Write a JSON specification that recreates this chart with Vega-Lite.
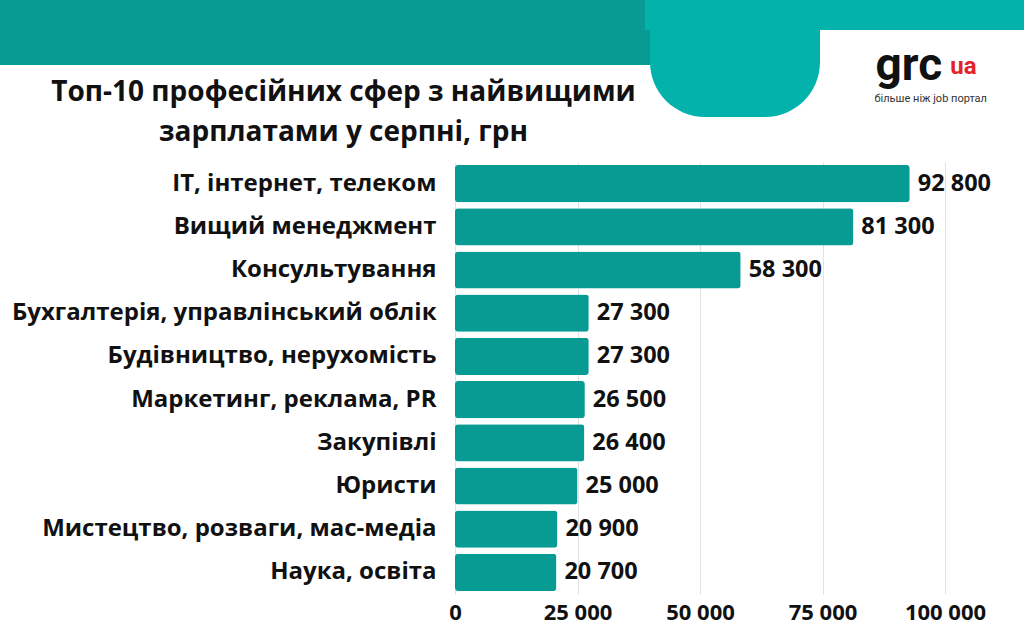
{
  "$schema": "https://vega.github.io/schema/vega-lite/v6.json",
  "autosize": "none",
  "width": 539,
  "height": 432,
  "padding": {"left": 455, "top": 162, "right": 30, "bottom": 43},
  "background": "white",
  "config": {
    "view": {"stroke": null},
    "font": "Open Sans",
    "locale": {"number": {"decimal": ",", "thousands": " ", "grouping": [3], "currency": ["", ""]}}
  },
  "title": {
    "text": ["Топ-10 професійних сфер з найвищими", "зарплатами у серпні, грн"],
    "anchor": "middle",
    "frame": "group",
    "align": "center",
    "dx": -381,
    "offset": -207,
    "fontSize": 28,
    "fontWeight": "bold",
    "font": "Open Sans",
    "color": "#111111",
    "lineHeight": 40
  },
  "data": {
    "values": [
      {"sphere": "IT, інтернет, телеком", "salary": 92800},
      {"sphere": "Вищий менеджмент", "salary": 81300},
      {"sphere": "Консультування", "salary": 58300},
      {"sphere": "Бухгалтерія, управлінський облік", "salary": 27300},
      {"sphere": "Будівництво, нерухомість", "salary": 27300},
      {"sphere": "Маркетинг, реклама, PR", "salary": 26500},
      {"sphere": "Закупівлі", "salary": 26400},
      {"sphere": "Юристи", "salary": 25000},
      {"sphere": "Мистецтво, розваги, мас-медіа", "salary": 20900},
      {"sphere": "Наука, освіта", "salary": 20700}
    ]
  },
  "layer": [
    {
      "mark": {"type": "bar", "cornerRadius": 3, "strokeWidth": 0, "strokeOpacity": 0},
      "encoding": {
        "y": {"field": "sphere", "type": "nominal", "sort": null,
          "scale": {"paddingInner": 0.14, "paddingOuter": 0.07},
          "axis": {
            "title": "grc",
            "titleAngle": 0, "titleX": 420, "titleY": -83,
            "titleAlign": "left", "titleBaseline": "alphabetic",
            "titleFont": "Roboto", "titleFontSize": 46, "titleFontWeight": "bold", "titleColor": "#111111",
            "labelFont": "Open Sans", "labelFontSize": 24, "labelFontWeight": "bold", "labelColor": "#111111",
            "labelPadding": 19, "labelLimit": 600, "ticks": false, "domain": false, "grid": false
          }},
        "x": {"field": "salary", "type": "quantitative",
          "scale": {"domain": [0, 110000], "nice": false, "zero": true},
          "axis": {
            "values": [0, 25000, 50000, 75000, 100000],
            "format": ",d",
            "grid": true, "gridColor": "#e2e2e2", "gridWidth": 1,
            "domain": false, "ticks": false,
            "labelFont": "Open Sans", "labelFontSize": 22, "labelFontWeight": "bold", "labelColor": "#111111",
            "labelPadding": 8, "labelFlush": false,
            "title": "більше ніж job портал",
            "titleX": 419, "titleY": -496,
            "titleAlign": "left", "titleBaseline": "middle",
            "titleFont": "Roboto", "titleFontSize": 11, "titleFontWeight": "normal", "titleColor": "#333333"
          }},
        "fill": {"field": "salary", "type": "quantitative",
          "scale": {"domain": [0, 100000], "range": ["#089b94", "#089b94"]},
          "legend": {
            "orient": "none", "legendX": -455, "legendY": -162,
            "direction": "horizontal", "gradientLength": 700, "gradientThickness": 65,
            "gradientStrokeWidth": 0, "padding": 0, "title": null,
            "labelOpacity": 0, "labelFontSize": 1, "zindex": 0
          }},
        "stroke": {"field": "salary", "type": "quantitative",
          "scale": {"domain": [0, 100000], "range": ["#02b2ab", "#02b2ab"]},
          "legend": {
            "orient": "none", "legendX": 190, "legendY": -162,
            "direction": "horizontal", "gradientLength": 379, "gradientThickness": 30,
            "gradientStrokeWidth": 0, "padding": 0, "title": null,
            "labelOpacity": 0, "labelFontSize": 1, "zindex": 0
          }}
      }
    },
    {
      "mark": {"type": "text", "align": "left", "baseline": "middle", "dx": 8,
        "font": "Open Sans", "fontSize": 23.5, "fontWeight": "bold", "color": "#111111", "strokeWidth": 0, "strokeOpacity": 0},
      "encoding": {
        "y": {"field": "sphere", "type": "nominal", "sort": null,
          "axis": {
            "orient": "right", "labels": false, "ticks": false, "domain": false, "grid": false,
            "title": "ua", "titleAngle": 0, "titleX": -31, "titleY": -96,
            "titleAlign": "center", "titleBaseline": "middle",
            "titleFont": "Roboto", "titleFontSize": 24, "titleFontWeight": "bold", "titleColor": "#e2232a"
          }},
        "x": {"field": "salary", "type": "quantitative"},
        "text": {"field": "salary", "type": "quantitative", "format": ",d"},
        "stroke": {"field": "salary", "type": "quantitative",
          "scale": {"domain": [0, 100000], "range": ["#02b2ab", "#02b2ab"]},
          "legend": {
            "orient": "none", "legendX": 195, "legendY": -222,
            "direction": "horizontal", "gradientLength": 110, "gradientThickness": 114,
            "gradientStrokeWidth": 0, "padding": 30, "title": null,
            "fillColor": "#02b2ab", "cornerRadius": 55,
            "labelOpacity": 0, "labelFontSize": 1, "zindex": 0
          }}
      }
    }
  ],
  "resolve": {"axis": {"y": "independent"}, "scale": {"stroke": "independent"}, "legend": {"stroke": "independent"}}
}
